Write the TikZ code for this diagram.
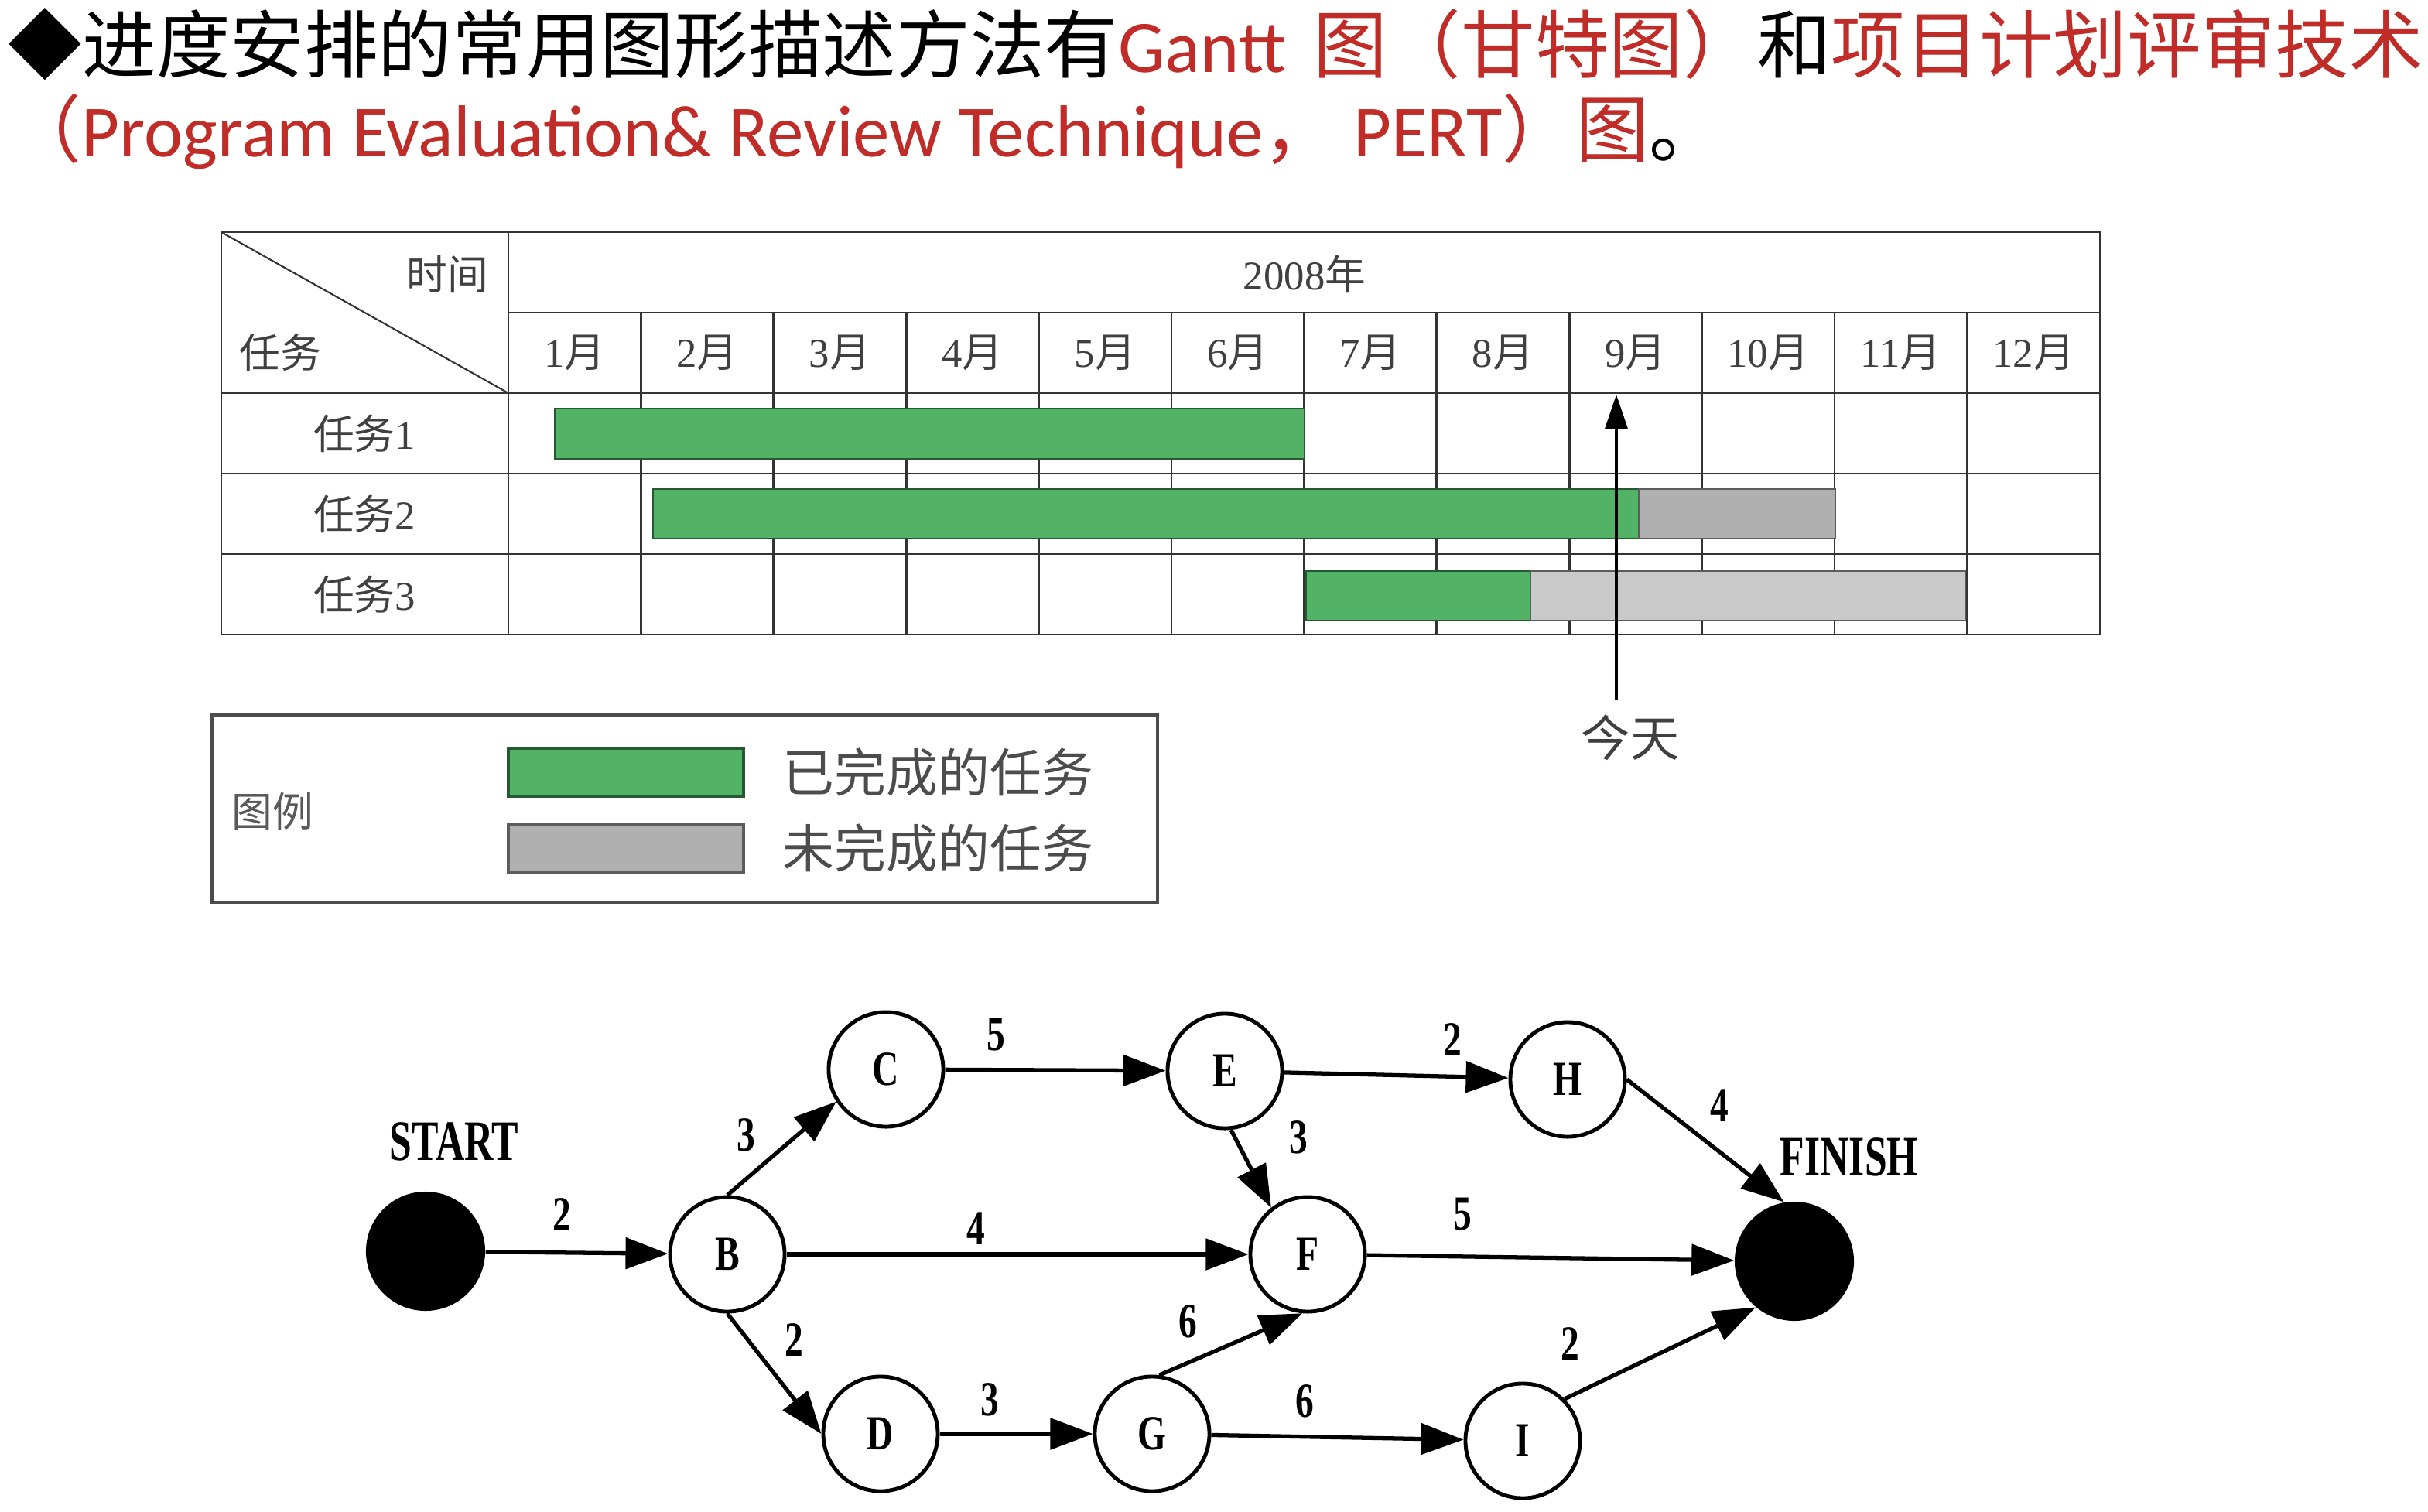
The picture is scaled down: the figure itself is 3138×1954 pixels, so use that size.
\documentclass[tikz,border=0pt]{standalone}
\usepackage{fontspec}
\setmainfont{Liberation Serif}
\newfontfamily\zh{Noto Sans CJK SC}
\newfontfamily\titlelatin{Carlito}
\newfontfamily\pertfont[FakeStretch=0.75]{Liberation Serif}
\newfontfamily\pertwide[FakeStretch=0.7]{Liberation Serif}
\usetikzlibrary{arrows.meta,positioning}
\definecolor{slidered}{RGB}{192,44,40}
\definecolor{ganttgreen}{RGB}{82,178,102}
\definecolor{ganttedge}{RGB}{38,88,50}
\definecolor{ganttgray}{RGB}{176,176,176}
\definecolor{ganttpale}{RGB}{201,201,201}
\definecolor{grayedge}{RGB}{92,92,92}
\tikzset{
    titletext/.style={anchor=base west,inner sep=0pt,font=\fontsize{27pt}{32pt}\selectfont},
    ganttgrid/.style={draw=black!80,line width=0.8pt},
    gantttext/.style={inner sep=1pt,text=black!75,font=\fontsize{15pt}{18pt}\selectfont},
    donebar/.style={fill=ganttgreen,draw=ganttedge,line width=0.7pt},
    latebar/.style={fill=ganttgray,draw=grayedge,line width=0.7pt},
    todayline/.style={-{Triangle[length=4.4mm,width=2.9mm]},line width=0.9pt},
    todaytext/.style={inner sep=1pt,text=black!75,font=\zh\fontsize{18pt}{20pt}\selectfont},
    legendframe/.style={draw=black!70,line width=1.1pt},
    legendlabel/.style={inner sep=0pt,text=black!65,font=\zh\fontsize{15pt}{18pt}\selectfont},
    doneswatch/.style={rectangle,fill=ganttgreen,draw=ganttedge,line width=1.2pt,minimum width=3.04cm,minimum height=0.62cm},
    lateswatch/.style={rectangle,fill=ganttgray,draw=grayedge,line width=1.2pt,minimum width=3.04cm,minimum height=0.62cm},
    legendtext/.style={inner sep=0pt,text=black!70,font=\zh\fontsize{19pt}{22pt}\selectfont},
    eventnode/.style={circle,draw,line width=1.4pt,minimum size=1.48cm,inner sep=0pt,font=\pertfont\bfseries\fontsize{18pt}{20pt}\selectfont},
    termnode/.style={circle,fill=black,minimum size=1.54cm,inner sep=0pt},
    termtext/.style={inner sep=0pt,font=\pertwide\bfseries\fontsize{21pt}{24pt}\selectfont},
    pertline/.style={-{Triangle[length=5.5mm,width=4mm]},line width=1.5pt},
    pertnum/.style={inner sep=1pt,font=\pertfont\bfseries\fontsize{18pt}{20pt}\selectfont}
}
\begin{document}
\begin{tikzpicture}[x=0.01cm,y=-0.01cm]
            \path[fill=white,use as bounding box] (0,0) rectangle (3138,1954);
            \node[titletext,font=\fontsize{27.2pt}{32pt}\selectfont] (title1) at (10,93) {\zh ◆进度安排的常用图形描述方法有{\color{slidered}\titlelatin Gantt}\hspace{4pt} {\color{slidered}图（甘特图）}和{\color{slidered}项目计划评审技术}};
            \node[titletext] (title2) at (10,202) {\zh{\color{slidered}（{\titlelatin Program Evaluation\& Review Technique}，{\titlelatin\ PERT}）图}。};
            \draw[ganttgrid] (286,300) rectangle (2714,820);
            \draw[ganttgrid] (657,300) -- (657,820);
            \draw[ganttgrid] (657,404) -- (2714,404);
            \foreach \y in {508,612,716}
                \draw[ganttgrid] (286,\y) -- (2714,\y);
            \foreach \k in {1,...,11}
                \draw[ganttgrid] ({657+171.4*\k},404) -- ({657+171.4*\k},820);
            \draw[ganttgrid,line width=0.6pt] (286,300) -- (657,508);
            \node[gantttext] (timehead) at (578,355) {\zh 时间};
            \node[gantttext] (taskhead) at (362,455) {\zh 任务};
            \node[gantttext] (year) at (1686,354) {2008{\zh 年}};
            \foreach \k in {1,...,12}
                \node[gantttext] (month\k) at ({657+171.4*(\k-0.5)},456) {\k{\zh 月}};
            \foreach \k/\y in {1/560,2/664,3/768}
                \node[gantttext] (task\k) at (471,\y) {{\zh 任务}\k};
            \draw[donebar] (717,528) rectangle (1686,593);
            \draw[donebar] (844,632) rectangle (2118,696);
            \draw[latebar] (2118,632) rectangle (2372,696);
            \draw[donebar] (1688,738) rectangle (1978,802);
            \draw[latebar,fill=ganttpale] (1978,738) rectangle (2540,802);
            \node[todaytext] (today) at (2107,953) {今天};
            \coordinate (todaytip) at (2089,510);
            \draw[todayline] (today.north -| todaytip) ++(0,-14) -- (todaytip);
            \draw[legendframe] (274,924) rectangle (1496,1166);
            \node[legendlabel] (legend) at (352,1048) {图例};
            \node[doneswatch] (doneswatch) at (809,998) {};
            \node[lateswatch] (lateswatch) at (809,1096) {};
            \node[legendtext,right=4.8mm of doneswatch] (donetext) {已完成的任务};
            \node[legendtext,right=4.8mm of lateswatch] (latetext) {未完成的任务};
            \node[termnode] (start) at (550,1617) {};
            \node[eventnode] (b) at (940,1621) {B};
            \node[eventnode] (c) at (1145,1382) {C};
            \node[eventnode] (e) at (1583,1384) {E};
            \node[eventnode] (h) at (2026,1395) {H};
            \node[eventnode] (f) at (1690,1621) {F};
            \node[termnode] (finish) at (2319,1630) {};
            \node[eventnode] (d) at (1138,1853) {D};
            \node[eventnode] (g) at (1489,1853) {G};
            \node[eventnode] (i) at (1968,1862) {I};
            \node[termtext] (startlab) at (587,1475) {START};
            \node[termtext] (finishlab) at (2390,1495) {FINISH};
            \draw[pertline] (start) -- node[pertnum,pos=0.42,above=2.2mm] {2} (b);
            \draw[pertline] (b.north) -- node[pertnum,pos=0.355,above left=1.1mm] {3} (c.213);
            \draw[pertline] (c) -- node[pertnum,pos=0.23,above=1.8mm] {5} (e);
            \draw[pertline] (e) -- node[pertnum,pos=0.75,above=2.1mm] {2} (h);
            \draw[pertline] (e.276) -- node[pertnum,pos=0.1,right=6.4mm] {3} (f.128);
            \draw[pertline] (h.east) -- node[pertnum,pos=0.45,above right=1.5mm] {4} (finish.100);
            \draw[pertline] (b) -- node[pertnum,pos=0.41,above=0.6mm] {4} (f);
            \draw[pertline] (f) -- node[pertnum,pos=0.26,above=2.8mm] {5} (finish);
            \draw[pertline] (b.south) -- node[pertnum,pos=0.22,right=4.2mm] {2} (d.west);
            \draw[pertline] (g.83) -- node[pertnum,pos=0.2,above=2.6mm] {6} (f.265);
            \draw[pertline] (d) -- node[pertnum,pos=0.33,above=1.7mm] {3} (g);
            \draw[pertline] (g) -- node[pertnum,pos=0.37,above=1.8mm] {6} (i);
            \draw[pertline] (i.45) -- node[pertnum,pos=0.03,above=4.1mm] {2} (finish.230);
        \end{tikzpicture}
\end{document}
